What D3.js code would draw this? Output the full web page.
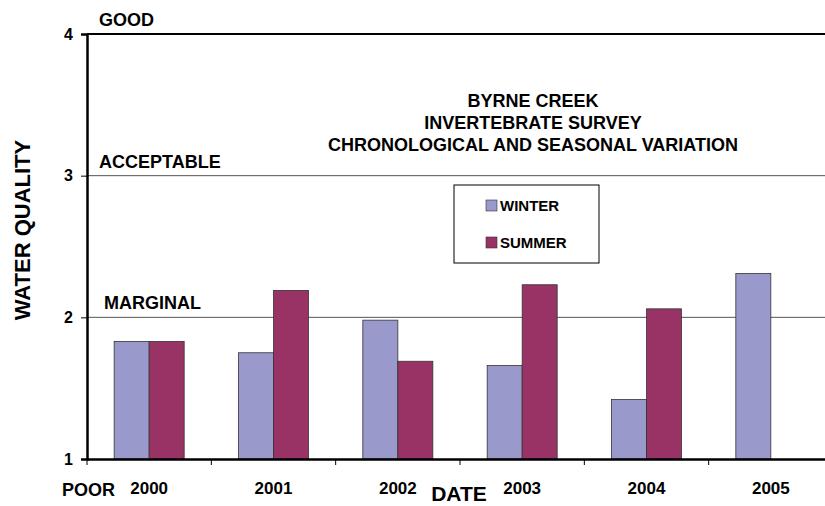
<!DOCTYPE html>
<html>
<head>
<meta charset="utf-8">
<script src="https://cdn.jsdelivr.net/npm/d3@7"></script>
<style>
  body { margin: 0; background: #fff; }
  text { font-family: "Liberation Sans", Arial, sans-serif; }
</style>
</head>
<body>
<script>
// data
const years = ["2000", "2001", "2002", "2003", "2004", "2005"];
const series = ["WINTER", "SUMMER"];
const winter = [1.83, 1.75, 1.98, 1.66, 1.42, 2.31];
const summer = [1.83, 2.19, 1.69, 2.23, 2.06, null];
const colors = ["#9999cc", "#993366"];
const yTicks = [1, 2, 3, 4];
const levels = [
  { label: "GOOD", value: 4 },
  { label: "ACCEPTABLE", value: 3 },
  { label: "MARGINAL", value: 2 }
];

const width = 825, height = 506;
const margin = { left: 87, top: 34, bottom: 47 };
const plotW = 746; // runs slightly past the window edge like the original

const svg = d3.select("body").append("svg")
  .attr("width", width)
  .attr("height", height);

const x = d3.scaleBand()
  .domain(years)
  .range([margin.left, margin.left + plotW])
  .paddingInner(0)
  .paddingOuter(0);

const xInner = d3.scaleBand()
  .domain(series)
  .range([0, x.bandwidth()])
  .paddingOuter(0.776)
  .paddingInner(0);

const y = d3.scaleLinear()
  .domain([1, 4])
  .range([height - margin.bottom, margin.top]);

// gridlines at 2 and 3
svg.append("g")
  .selectAll("line")
  .data([2, 3])
  .join("line")
  .attr("x1", margin.left)
  .attr("x2", width)
  .attr("y1", d => y(d))
  .attr("y2", d => y(d))
  .attr("stroke", "#555")
  .attr("stroke-width", 1);

// top line
svg.append("line")
  .attr("x1", margin.left)
  .attr("x2", width)
  .attr("y1", y(4))
  .attr("y2", y(4))
  .attr("stroke", "#000")
  .attr("stroke-width", 2);

// bars
const rows = years.map((yr, i) => ({ year: yr, values: [winter[i], summer[i]] }));
const groups = svg.append("g")
  .selectAll("g")
  .data(rows)
  .join("g")
  .attr("transform", d => `translate(${x(d.year)},0)`);

groups.selectAll("rect")
  .data(d => d.values.map((v, j) => ({ key: series[j], value: v, j: j })).filter(d => d.value != null))
  .join("rect")
  .attr("x", d => xInner(d.key))
  .attr("width", xInner.bandwidth())
  .attr("y", d => y(d.value))
  .attr("height", d => y(1) - y(d.value))
  .attr("fill", d => colors[d.j])
  .attr("stroke", "#333")
  .attr("stroke-width", 0.8);

// y axis
const yAxis = svg.append("g")
  .attr("transform", `translate(${margin.left},0)`)
  .call(d3.axisLeft(y).tickValues(yTicks).tickFormat(d3.format("d")).tickSize(6).tickPadding(8));
yAxis.select(".domain").attr("stroke-width", 2.5);
yAxis.selectAll("text")
  .attr("font-size", 16)
  .attr("font-weight", "bold")
  .attr("fill", "#000");

// x axis
const xAxis = svg.append("g")
  .attr("transform", `translate(0,${y(1)})`)
  .call(d3.axisBottom(x).tickSize(0).tickPadding(23));
xAxis.select(".domain").attr("stroke-width", 2.5);
xAxis.selectAll("text")
  .attr("font-size", 17)
  .attr("font-weight", "bold")
  .attr("fill", "#000");
// small ticks at category boundaries
xAxis.append("g")
  .selectAll("line")
  .data(years)
  .join("line")
  .attr("x1", d => x(d))
  .attr("x2", d => x(d))
  .attr("y1", 0)
  .attr("y2", 6)
  .attr("stroke", "#000")
  .attr("stroke-width", 1);

// level labels
svg.append("g")
  .selectAll("text")
  .data(levels)
  .join("text")
  .attr("x", d => d.value === 2 ? 104 : 99)
  .attr("y", d => y(d.value) - 8)
  .attr("font-size", 18)
  .attr("font-weight", "bold")
  .attr("fill", "#000")
  .text(d => d.label);

svg.append("text")
  .attr("x", 62)
  .attr("y", 496)
  .attr("font-size", 18)
  .attr("font-weight", "bold")
  .attr("fill", "#000")
  .text("POOR");

// axis titles
svg.append("text")
  .attr("x", 459)
  .attr("y", 501)
  .attr("text-anchor", "middle")
  .attr("font-size", 21)
  .attr("font-weight", "bold")
  .text("DATE");

svg.append("text")
  .attr("transform", "translate(30,230) rotate(-90)")
  .attr("text-anchor", "middle")
  .attr("font-size", 22)
  .attr("font-weight", "bold")
  .text("WATER QUALITY");

// chart title
const titleLines = ["BYRNE CREEK", "INVERTEBRATE SURVEY", "CHRONOLOGICAL AND SEASONAL VARIATION"];
svg.append("g")
  .selectAll("text")
  .data(titleLines)
  .join("text")
  .attr("x", 533)
  .attr("y", (d, i) => 107 + i * 22)
  .attr("text-anchor", "middle")
  .attr("font-size", 18)
  .attr("font-weight", "bold")
  .attr("fill", "#000")
  .text(d => d);

// legend
const legend = svg.append("g").attr("transform", "translate(454,185)");
legend.append("rect")
  .attr("width", 145)
  .attr("height", 78)
  .attr("fill", "#fff")
  .attr("stroke", "#000")
  .attr("stroke-width", 1);
const items = legend.selectAll("g")
  .data(series)
  .join("g")
  .attr("transform", (d, i) => `translate(32,${21 + i * 37})`);
items.append("rect")
  .attr("x", 0)
  .attr("y", -6)
  .attr("width", 11)
  .attr("height", 11)
  .attr("fill", (d, i) => colors[i])
  .attr("stroke", "#333")
  .attr("stroke-width", 0.6);
items.append("text")
  .attr("x", 14)
  .attr("y", 5)
  .attr("font-size", 15)
  .attr("font-weight", "bold")
  .text(d => d);
</script>
</body>
</html>
